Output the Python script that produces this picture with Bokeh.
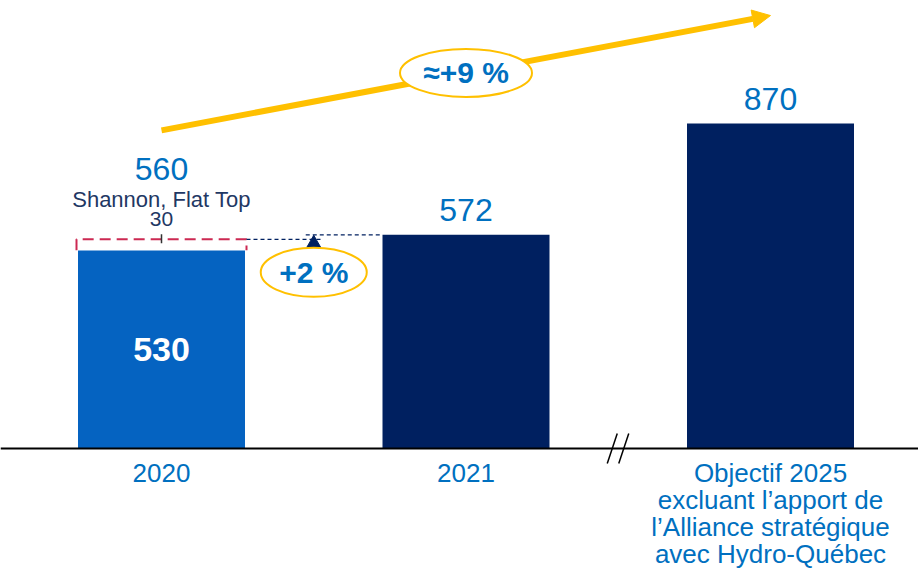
from bokeh.plotting import figure
from bokeh.models import Range1d, Span, Arrow, NormalHead
from bokeh.core.properties import value
from bokeh.embed import file_html
from bokeh.resources import INLINE

# ---- data ----
categories = ["2020", "2021",
              "Objectif 2025\nexcluant l’apport de\nl’Alliance stratégique\navec Hydro-Québec"]
base_values = [530, 572, 870]
additions = [30, 0, 0]            # Shannon, Flat Top (2020)
totals = [560, 572, 870]
addition_name = "Shannon, Flat Top"
growth_labels = ["+2 %", "≈+9 %"]

# ---- layout constants ----
W, H = 918, 573
PXY = 0.3735            # pixels per unit (y)
PXX = 304.5             # pixels per category step (x)
Y_END = 448 / PXY
X_START = -161 / PXX
FONT = value("Liberation Sans")
BLUE_TXT = "#0070C0"
NAVY = "#002060"
BLUE_BAR = "#0563C1"
GOLD = "#FFC000"
RED = "#CC2952"
DARK_TXT = "#1F3864"


def dy(px):
    return px / PXY


def dx(px):
    return px / PXX


p = figure(width=W, height=H, output_backend="svg", toolbar_location=None,
           x_range=Range1d(X_START, X_START + W / PXX),
           y_range=Range1d(Y_END - H / PXY, Y_END),
           min_border=0, outline_line_color=None)
p.axis.visible = False
p.grid.visible = False

xs = list(range(len(categories)))
bw = dx(167)
colors = [BLUE_BAR, NAVY, NAVY]

# big gold arrow (drawn beneath glyphs)
ys0 = totals[0] + dy(109)
ys1 = totals[2] + dy(108)
p.add_layout(Arrow(x_start=xs[0], y_start=ys0, x_end=xs[2], y_end=ys1,
                   line_color=GOLD, line_width=6, level="underlay",
                   end=NormalHead(size=18, fill_color=GOLD, line_color=GOLD)))

p.vbar(x=xs, top=base_values, width=bw, fill_color=colors, line_color=None)

# baseline axis
p.add_layout(Span(location=0, dimension="width", line_color="black", line_width=2))

# axis break marks between 2021 and 2025
mid = (xs[1] + xs[2]) / 2
bx = [mid - dx(6), mid + dx(5.5)]
p.segment(x0=[b - dx(5) for b in bx], y0=[-dy(15)] * 2,
          x1=[b + dx(5) for b in bx], y1=[dy(15)] * 2,
          line_color="black", line_width=1.5)

# dashed bracket for the addition on 2020
hw = dx(85)
x0 = xs[0]
p.line(x=[x0 - hw, x0 - hw, x0 + hw, x0 + hw],
       y=[base_values[0] + 1, totals[0], totals[0], base_values[0] + 1],
       line_color=RED, line_width=2, line_dash="11 6")
p.segment(x0=[x0], y0=[totals[0] + dy(5)], x1=[x0], y1=[totals[0] - dy(4)],
          line_color="#333333", line_width=1.5)

# dashed connectors toward 2021
gap = (xs[0] + xs[1]) / 2
p.segment(x0=[x0 + hw, gap - dx(8)], y0=[totals[0], totals[1]],
          x1=[gap + dx(9), xs[1] - bw / 2], y1=[totals[0], totals[1]],
          line_color=NAVY, line_width=1.2, line_dash="4 3")
p.scatter(x=[gap], y=[totals[0] - dy(4)], marker="triangle", size=14,
          fill_color=NAVY, line_color=NAVY)

# +2 % ellipse
e1y = totals[0] - dy(33)
p.ellipse(x=[gap], y=[e1y], width=106, height=49, width_units="screen",
          height_units="screen", fill_color="white", line_color=GOLD, line_width=2)
p.text(x=[gap], y=[e1y], text=[growth_labels[0]], text_font=FONT,
       text_font_size="30px", text_font_style="bold", text_color=BLUE_TXT,
       text_align="center", text_baseline="middle")

# ≈+9 % ellipse on the arrow
p.ellipse(x=[(xs[0] + xs[2]) / 2], y=[(ys0 + ys1) / 2], width=132, height=48,
          width_units="screen", height_units="screen", fill_color="white",
          line_color=GOLD, line_width=2)
p.text(x=[(xs[0] + xs[2]) / 2], y=[(ys0 + ys1) / 2], text=[growth_labels[1]],
       text_font=FONT, text_font_size="30px", text_font_style="bold",
       text_color=BLUE_TXT, text_align="center", text_baseline="middle")

# value labels
p.text(x=[xs[0]], y=[totals[0] + dy(70)], text=[str(totals[0])], text_font=FONT,
       text_font_size="32px", text_color=BLUE_TXT, text_align="center",
       text_baseline="middle")
p.text(x=[xs[0]], y=[totals[0] + dy(40)], text=[addition_name], text_font=FONT,
       text_font_size="22px", text_color=DARK_TXT, text_align="center",
       text_baseline="middle")
p.text(x=[xs[0]], y=[totals[0] + dy(20)], text=[str(additions[0])], text_font=FONT,
       text_font_size="21px", text_color=DARK_TXT, text_align="center",
       text_baseline="middle")
p.text(x=xs[1:], y=[v + dy(24.5) for v in base_values[1:]],
       text=[str(v) for v in base_values[1:]], text_font=FONT,
       text_font_size="32px", text_color=BLUE_TXT, text_align="center",
       text_baseline="middle")
p.text(x=[xs[0]], y=[base_values[0] / 2], text=[str(base_values[0])], text_font=FONT,
       text_font_size="34px", text_font_style="bold", text_color="white",
       text_align="center", text_baseline="middle")

# category labels (single-line and multi-line)
p.text(x=xs[:2], y=[-dy(15)] * 2, text=categories[:2], text_font=FONT,
       text_font_size="26px", text_color=BLUE_TXT, text_align="center",
       text_baseline="top", text_line_height=0.9)
p.text(x=xs[2:], y=[-dy(9)], text=categories[2:], text_font=FONT,
       text_font_size="26px", text_color=BLUE_TXT, text_align="center",
       text_baseline="top", text_line_height=0.9)

open("out.html", "w").write(file_html(p, INLINE))
